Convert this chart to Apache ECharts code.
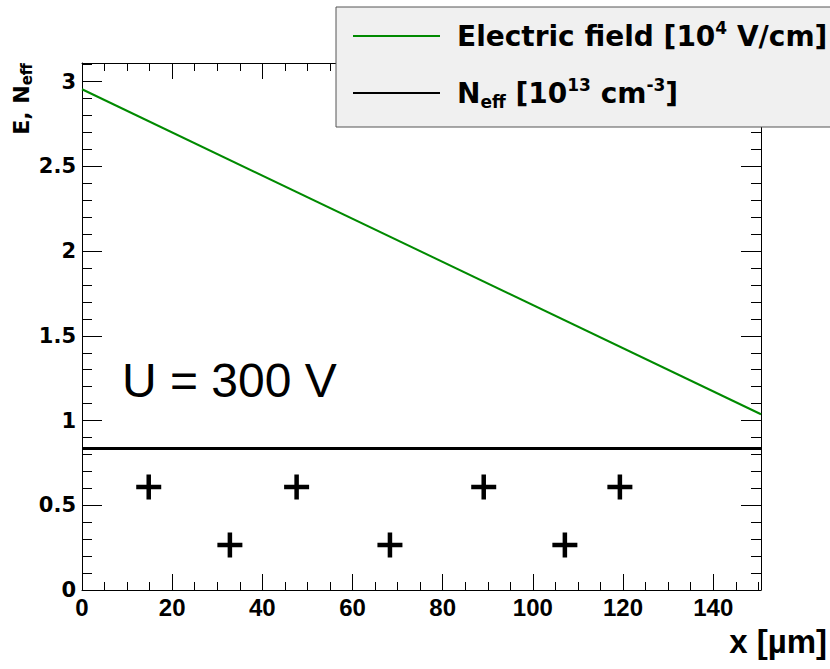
<!DOCTYPE html>
<html>
<head>
<meta charset="utf-8">
<script src="https://cdn.jsdelivr.net/npm/echarts@6/dist/echarts.min.js"></script>
<style>
html,body{margin:0;padding:0;background:#fff;}
#chart{width:830px;height:669px;}
</style>
</head>
<body>
<div id="chart"></div>
<script>
// ---- data ----
const xRange = [0, 150.6];
const yRange = [0, 3.11];
const xMajorStep = 20, xMinorStep = 5;
const yMajorStep = 0.5, yMinorStep = 0.1;

const eFieldX = [0, 150.6];
const eFieldY = [2.955, 1.037];

const neffX = [0, 150.6];
const neffY = [0.835, 0.835];

const plusX = [14.8, 32.8, 47.6, 68.3, 89.1, 107.1, 119.3];
const plusY = [0.608, 0.266, 0.608, 0.266, 0.608, 0.266, 0.608];

const seriesNames = ['Electric field [10^4 V/cm]', 'N_eff [10^13 cm^-3]'];
const annotation = 'U = 300 V';
const xTitle = 'x [µm]';

// ---- chart ----
const BOLD = '"DejaVu Sans", sans-serif';
const HELV = '"Liberation Sans", Arial, sans-serif';
const chart = echarts.init(document.getElementById('chart'), null, {renderer: 'svg'});

function fmtNum(step) {
  return function (v) {
    const k = Math.round(v / step);
    if (Math.abs(k * step - v) > 1e-6) return '';
    return String(+(k * step).toFixed(2));
  };
}

function xAxisDef(pos, step, len, labels, line) {
  return {
    type: 'value', position: pos, min: xRange[0], max: xRange[1], interval: step,
    axisLine: {show: line, onZero: false, lineStyle: {color: '#000', width: 1}},
    axisTick: {show: true, inside: true, length: len, lineStyle: {color: '#000', width: 1}},
    axisLabel: {show: labels, margin: 5, formatter: fmtNum(step), showMaxLabel: false,
      fontFamily: HELV, fontWeight: 'bold', fontSize: 24, color: '#000'},
    splitLine: {show: false}
  };
}
function yAxisDef(pos, step, len, labels, line) {
  return {
    type: 'value', position: pos, min: yRange[0], max: yRange[1], interval: step,
    axisLine: {show: line, onZero: false, lineStyle: {color: '#000', width: 1}},
    axisTick: {show: true, inside: true, length: len, lineStyle: {color: '#000', width: 1}},
    axisLabel: {show: labels, margin: 6, formatter: fmtNum(step), showMaxLabel: false,
      fontFamily: BOLD, fontWeight: 'bold', fontSize: 21, color: '#000'},
    splitLine: {show: false}
  };
}

const richLegend = {
  gap: {width: 12},
  b: {fontFamily: BOLD, fontWeight: 'bold', fontSize: 28, lineHeight: 34, color: '#000'},
  sup: {fontFamily: BOLD, fontWeight: 'bold', fontSize: 17, lineHeight: 20, verticalAlign: 'top', color: '#000'},
  sub: {fontFamily: BOLD, fontWeight: 'bold', fontSize: 17, lineHeight: 12, verticalAlign: 'bottom', color: '#000'}
};

function legendText(name) {
  if (name === seriesNames[0]) return '{gap|}{b|Electric field [10}{sup|4}{b| V/cm]}';
  return '{gap|}{b|N}{sub|eff}{b| [10}{sup|13}{b| cm}{sup|-3}{b|]}';
}

const option = {
  animation: false,
  backgroundColor: '#fff',
  grid: {left: 82, right: 69, top: 63, bottom: 79, containLabel: false},
  xAxis: [
    xAxisDef('bottom', xMajorStep, 16, true, true),
    xAxisDef('bottom', xMinorStep, 8, false, false),
    xAxisDef('top', xMajorStep, 16, false, true),
    xAxisDef('top', xMinorStep, 8, false, false)
  ],
  yAxis: [
    yAxisDef('left', yMajorStep, 20, true, true),
    yAxisDef('left', yMinorStep, 10, false, false),
    yAxisDef('right', yMajorStep, 20, false, true),
    yAxisDef('right', yMinorStep, 10, false, false)
  ],
  legend: {
    data: seriesNames,
    orient: 'vertical', left: 336, top: 7,
    backgroundColor: '#f0f0f0', borderColor: '#555', borderWidth: 1, borderRadius: 0,
    padding: [12, 4, 17, 17], itemGap: 26, itemWidth: 87, itemHeight: 2, icon: 'rect',
    selectedMode: false,
    formatter: legendText,
    textStyle: {rich: richLegend}
  },
  series: [
    {name: seriesNames[0], type: 'line', xAxisIndex: 0, yAxisIndex: 0, symbol: 'none',
      lineStyle: {color: '#008a00', width: 2}, itemStyle: {color: '#008a00'},
      data: eFieldX.map((x, i) => [x, eFieldY[i]]), z: 3},
    {name: seriesNames[1], type: 'line', xAxisIndex: 0, yAxisIndex: 0, symbol: 'none',
      lineStyle: {color: '#000', width: 2.8}, itemStyle: {color: '#000'},
      data: neffX.map((x, i) => [x, neffY[i]]), z: 3},
    {name: 'plus', type: 'scatter', xAxisIndex: 0, yAxisIndex: 0,
      symbol: 'path://M10.25,0H14.75V10.25H25V14.75H14.75V25H10.25V14.75H0V10.25H10.25Z',
      symbolSize: 25, itemStyle: {color: '#000', opacity: 1},
      emphasis: {disabled: true},
      data: plusX.map((x, i) => [x, plusY[i]]), z: 3}
  ],
  graphic: [
    {type: 'text', x: 21, y: 63, rotation: Math.PI / 2,
      style: {text: '{b|E, N}{sub|eff}', align: 'right', verticalAlign: 'middle',
        rich: {
          b: {fontFamily: BOLD, fontWeight: 'bold', fontSize: 22, lineHeight: 26, fill: '#000'},
          sub: {fontFamily: BOLD, fontWeight: 'bold', fontSize: 15, lineHeight: 12, verticalAlign: 'bottom', fill: '#000'}
        }}},
    {type: 'text', x: 827, y: 658,
      style: {text: xTitle, align: 'right', verticalAlign: 'bottom',
        fontFamily: HELV, fontWeight: 'bold', fontSize: 33, fill: '#000'}},
    {type: 'text', x: 122, y: 380,
      style: {text: annotation, align: 'left', verticalAlign: 'middle',
        fontFamily: HELV, fontSize: 48, fill: '#000'}}
  ]
};
chart.setOption(option);
</script>
</body>
</html>
